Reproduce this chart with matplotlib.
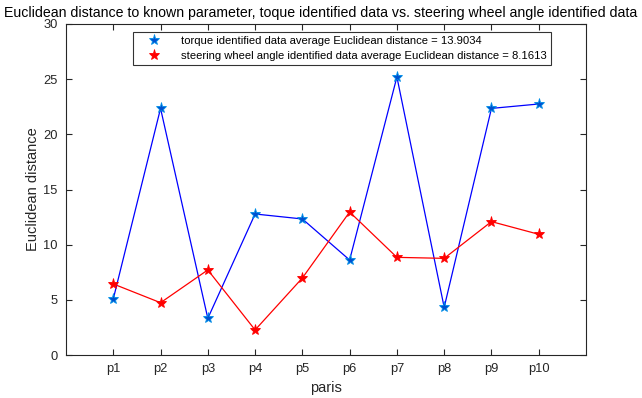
import matplotlib
matplotlib.use("Agg")
import matplotlib.pyplot as plt

plt.rcParams["font.family"] = ["Liberation Sans", "DejaVu Sans"]

# Euclidean distance per parameter pair
pairs = ["p1", "p2", "p3", "p4", "p5", "p6", "p7", "p8", "p9", "p10"]
torque_dist = [5.08, 22.35, 3.32, 12.78, 12.33, 8.61, 25.2, 4.32, 22.35, 22.75]
steer_dist = [6.44, 4.74, 7.71, 2.27, 6.98, 12.96, 8.85, 8.76, 12.09, 10.94]
torque_avg = 13.9034
steer_avg = 8.1613

fig = plt.figure(figsize=(6.42, 3.98), dpi=100)
ax = fig.add_axes([66 / 642, 1 - 355 / 398, 520 / 642, 331 / 398])

x = list(range(1, len(pairs) + 1))
ax.plot(x, torque_dist, "-", color="#0000ff", lw=0.9, zorder=2)
ax.plot(x, torque_dist, "*", ms=8, mfc="#0050d0", mec="#0090e8", mew=0.6,
        zorder=3,
        label="torque identified data average Euclidean distance = %.4f" % torque_avg)
ax.plot(x, steer_dist, "-", color="#ff0000", lw=0.9, zorder=2)
ax.plot(x, steer_dist, "*", ms=8, mfc="#ff0000", mec="#ff0000", mew=0.6,
        zorder=3,
        label="steering wheel angle identified data average Euclidean distance = %.4f" % steer_avg)

ax.set_xlim(0, 11)
ax.set_ylim(0, 30)
ax.set_xticks(x)
ax.set_xticklabels(pairs)
ax.set_yticks(range(0, 31, 5))

axis_color = "#262626"
for s in ax.spines.values():
    s.set_color(axis_color)
    s.set_linewidth(0.8)
ax.tick_params(direction="in", top=True, right=True, length=4, width=0.8,
               colors=axis_color, labelsize=9.3, pad=6)

ax.set_xlabel("paris", fontsize=10.5, color=axis_color, labelpad=4)
ax.set_ylabel("Euclidean distance", fontsize=10.5, color=axis_color, labelpad=2)
# title is wider than the axes, so center it on the figure instead
ax.set_title("Euclidean distance to known parameter, toque identified data vs. "
             "steering wheel angle identified data", fontsize=10.2, pad=5,
             x=(321 - 66) / 520)

leg = ax.legend(loc="upper center", bbox_to_anchor=(0.531, 0.975), fontsize=8.15,
                frameon=True, fancybox=False, borderpad=0.35, handlelength=3.0,
                labelspacing=0.4, handletextpad=0.9, borderaxespad=0)
leg.get_frame().set_edgecolor("black")
leg.get_frame().set_linewidth(0.8)

fig.savefig("out.png", dpi=100)
